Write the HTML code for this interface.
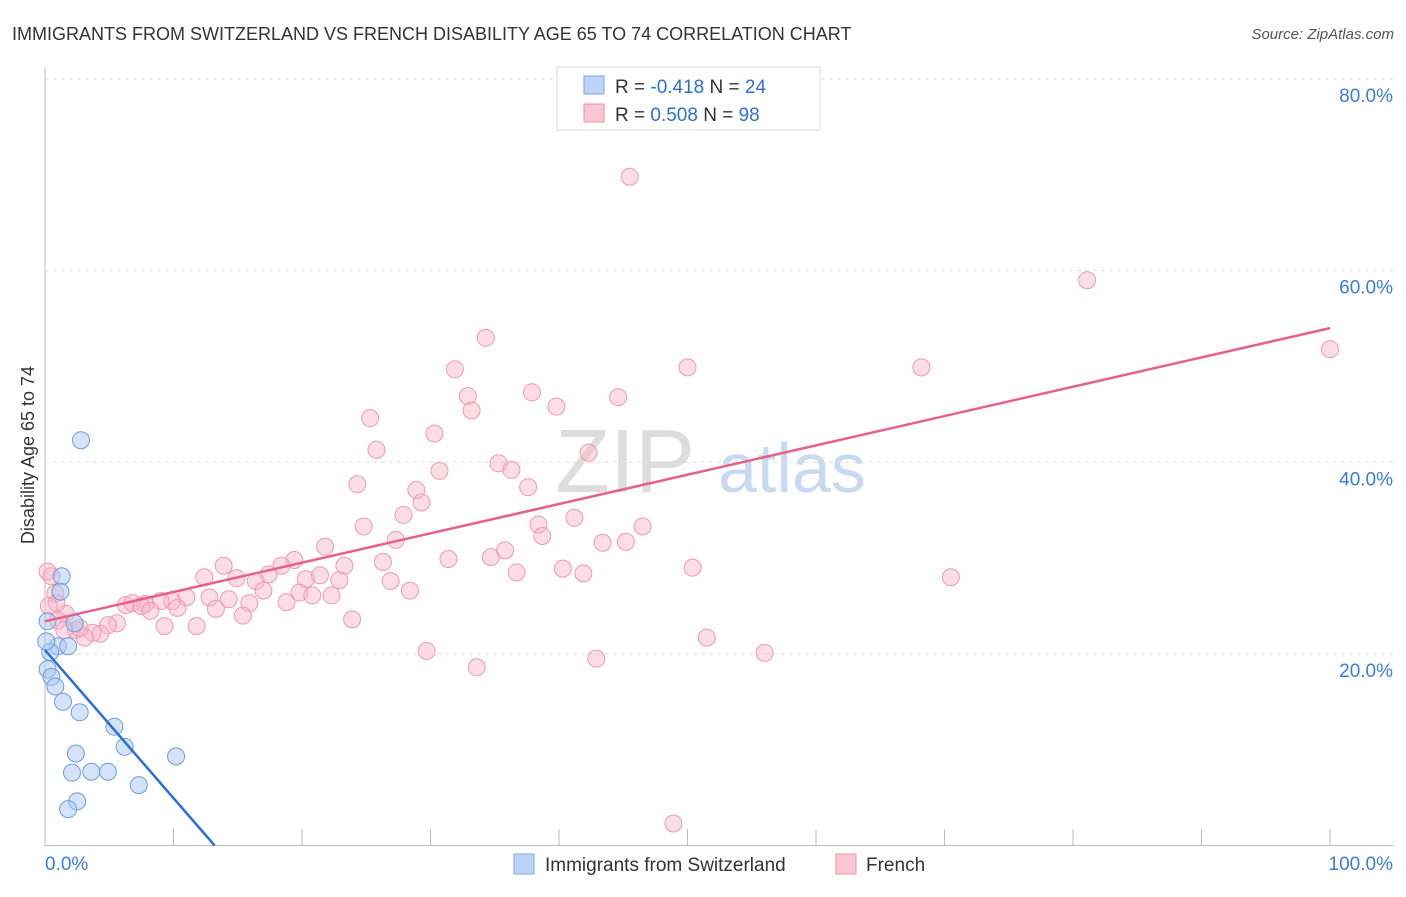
<!DOCTYPE html>
<html><head><meta charset="utf-8"><style>
body{margin:0;background:#fff;font-family:"Liberation Sans",sans-serif}
svg text{font-family:"Liberation Sans",sans-serif}
</style></head><body>
<svg id="chart" width="1406" height="892" xmlns="http://www.w3.org/2000/svg">
<text x="12" y="40" font-size="18" fill="#333">IMMIGRANTS FROM SWITZERLAND VS FRENCH DISABILITY AGE 65 TO 74 CORRELATION CHART</text>
<text x="1394" y="39" font-size="15" fill="#555" font-style="italic" text-anchor="end">Source: ZipAtlas.com</text>
<text x="34" y="455" font-size="18" fill="#333" text-anchor="middle" transform="rotate(-90 34 455)">Disability Age 65 to 74</text>
<text x="555" y="492" font-size="90" fill="#ddd" font-family="Liberation Serif">ZIP</text>
<text x="718" y="492" font-size="70" fill="#c9daf0">atlas</text>
<g id="grid"></g><g id="marks"></g>
<g>
<rect x="557" y="67" width="263" height="63" fill="#fff" stroke="#ddd"/>
<rect x="584" y="76" width="20" height="18" fill="#bcd4f5" stroke="#7aa6e0"/>
<rect x="584" y="104" width="20" height="18" fill="#f9c6d4" stroke="#ec93ad"/>
<text x="615" y="93" font-size="19" fill="#333">R = <tspan fill="#2f6fce">-0.418</tspan>   N = <tspan fill="#2f6fce">24</tspan></text>
<text x="615" y="121" font-size="19" fill="#333">R =  <tspan fill="#2f6fce">0.508</tspan>   N = <tspan fill="#2f6fce">98</tspan></text>
</g>
<g>
<rect x="514" y="854" width="20" height="20" fill="#bcd4f5" stroke="#7aa6e0"/>
<text x="545" y="871" font-size="19" fill="#333">Immigrants from Switzerland</text>
<rect x="836" y="854" width="20" height="20" fill="#f9c6d4" stroke="#ec93ad"/>
<text x="866" y="871" font-size="19" fill="#333">French</text>
</g>
</svg>
<script>
const yTicks=[20,40,60,80];
const xTickLabels=["0.0%","100.0%"];
const blueX=[2.8,1.3,1.2,0.2,2.3,1.0,1.8,0.4,0.2,0.5,0.8,1.4,2.7,5.4,6.2,2.4,10.2,2.1,3.6,4.9,7.3,2.5,1.8,0.1];
const blueY=[42.3,28.1,26.5,23.4,23.2,20.8,20.8,20.2,18.4,17.6,16.6,15.0,13.9,12.4,10.3,9.6,9.3,7.6,7.7,7.7,6.3,4.6,3.8,21.3];
const pinkX=[45.5,81.1,100,34.3,50,68.2,31.9,37.9,44.6,32.9,33.2,39.8,25.3,30.3,25.8,42.3,35.3,30.7,36.3,24.3,37.6,28.9,27.9,29.3,24.8,38.4,38.7,41.2,46.5,27.3,43.4,45.2,31.4,34.7,35.8,26.3,36.7,40.3,41.9,50.4,70.5,21.8,19.4,23.3,18.4,13.9,17.4,14.9,12.4,20.3,26.9,22.9,28.4,21.4,16.4,17.0,19.8,20.8,22.3,18.8,12.8,14.3,15.9,11.0,9.9,9.0,7.8,6.3,6.8,7.5,8.2,10.3,13.3,15.4,23.9,5.6,9.3,11.8,4.9,4.3,3.7,2.4,3.1,2.7,0.8,1.6,0.9,0.5,0.2,29.7,33.6,42.9,51.5,56,48.9,0.3,1.0,1.5];
const pinkY=[69.8,59.0,51.8,53.0,49.9,49.9,49.7,47.3,46.8,46.9,45.4,45.8,44.6,43.0,41.3,41.0,39.9,39.1,39.2,37.7,37.4,37.1,34.5,35.8,33.3,33.5,32.3,34.2,33.3,31.9,31.6,31.7,29.9,30.1,30.8,29.6,28.5,28.9,28.4,29.0,28.0,31.2,29.8,29.2,29.2,29.2,28.3,27.9,28.0,27.8,27.6,27.7,26.6,28.2,27.6,26.6,26.4,26.1,26.1,25.4,25.9,25.7,25.3,25.9,25.5,25.5,25.2,25.1,25.3,25.0,24.5,24.8,24.7,24.0,23.6,23.2,22.9,22.9,23.0,22.1,22.2,22.5,21.7,22.7,26.3,24.2,25.3,28.1,28.6,20.3,18.6,19.5,21.7,20.1,2.3,25,23.5,22.5];
const blueTrend=[[0,20.4],[13.2,0]];
const pinkTrend=[[0,23.4],[100,54]];
const X0=45,X1=1330,Y0=845.5,Y80=79;
const xs=v=>X0+(X1-X0)*v/100, ys=v=>Y0-(Y0-Y80)*v/80;
const NS="http://www.w3.org/2000/svg";
const grid=document.getElementById('grid'),marks=document.getElementById('marks');
function mk(tag,attrs,parent){const e=document.createElementNS(NS,tag);for(const k in attrs)e.setAttribute(k,attrs[k]);parent.appendChild(e);return e;}
let ax=mk('line',{x1:45,y1:68,x2:45,y2:846,stroke:'#bbb'},grid);


let bx=mk('line',{x1:45,y1:845.5,x2:1394,y2:845.5,stroke:'#bbb'},grid);


yTicks.forEach(t=>{
 const g=mk('line',{x1:45,x2:1394,y1:ys(t),y2:ys(t),stroke:'#ddd','stroke-dasharray':'4,4'},grid);
 
 
 const l=mk('text',{x:1393,y:ys(t)+23,'font-size':19,fill:'#3b7dd8','text-anchor':'end'},grid);l.textContent=t.toFixed(1)+'%';
 
 
});
for(let i=1;i<=10;i++){const t=mk('line',{x1:xs(i*10),x2:xs(i*10),y1:829,y2:845,stroke:'#bbb'},grid);
 
 }
[[0,'start',45],[100,'end',1393]].forEach((d,i)=>{const l=mk('text',{x:d[2],y:870,'font-size':19,fill:'#3b7dd8','text-anchor':d[1]},grid);l.textContent=xTickLabels[i];
 
 });
pinkX.forEach((v,i)=>{const c=mk('circle',{cx:xs(v),cy:ys(pinkY[i]),r:8.5,fill:'rgba(248,180,200,0.45)',stroke:'#ef9ab3','stroke-width':1},marks);
 
 });
blueX.forEach((v,i)=>{const c=mk('circle',{cx:xs(v),cy:ys(blueY[i]),r:8.5,fill:'rgba(170,200,240,0.5)',stroke:'#6b9ee0','stroke-width':1},marks);
 
 });
let tl=mk('line',{x1:xs(pinkTrend[0][0]),y1:ys(pinkTrend[0][1]),x2:xs(pinkTrend[1][0]),y2:ys(pinkTrend[1][1]),stroke:'#e8608a','stroke-width':2.5},marks);


let bl=mk('line',{x1:xs(blueTrend[0][0]),y1:ys(blueTrend[0][1]),x2:xs(blueTrend[1][0]),y2:ys(blueTrend[1][1]),stroke:'#2b6fd6','stroke-width':2.5},marks);


</script>
</body></html>
